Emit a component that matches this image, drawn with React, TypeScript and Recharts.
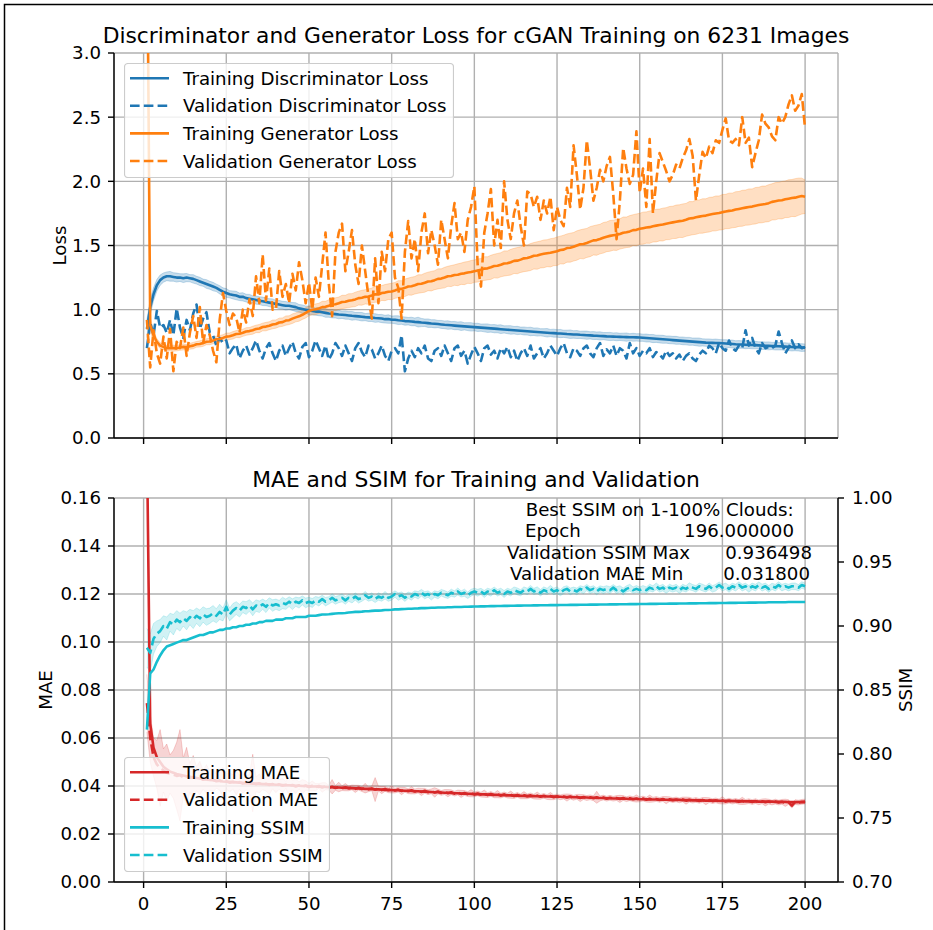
import React from 'react';
import { Area, CartesianGrid, ComposedChart, Legend, Line, XAxis, YAxis } from 'recharts';

const FONT = 'DejaVu Sans';
const BLUE = '#1f77b4';
const ORANGE = '#ff7f0e';
const RED = '#d62728';
const CYAN = '#17becf';
const DASH = '9.6 4.2';
const FS = 18.2;

const epochs = Array.from({ length: 200 }, (_, i) => i + 1);
const xTicks = [0, 25, 50, 75, 100, 125, 150, 175, 200];
const lossTicks = [0, 0.5, 1, 1.5, 2, 2.5, 3];
const maeTicks = [0, 0.02, 0.04, 0.06, 0.08, 0.1, 0.12, 0.14, 0.16];
const ssimTicks = [0.7, 0.75, 0.8, 0.85, 0.9, 0.95, 1.0];

// discriminator loss, training (mean over batches) and its std
const trainDLoss = [
  0.85, 1.02, 1.12, 1.19, 1.23, 1.25, 1.26, 1.26, 1.255, 1.25,
  1.25, 1.245, 1.25, 1.245, 1.24, 1.23, 1.22, 1.21, 1.2, 1.19,
  1.18, 1.17, 1.155, 1.14, 1.13, 1.12, 1.115, 1.11, 1.1, 1.1,
  1.09, 1.085, 1.08, 1.075, 1.07, 1.065, 1.06, 1.055, 1.05, 1.045,
  1.04, 1.035, 1.03, 1.03, 1.025, 1.02, 1.01, 1.005, 1.0, 0.995,
  0.99, 0.985, 0.985, 0.98, 0.975, 0.97, 0.968, 0.965, 0.962, 0.96,
  0.958, 0.955, 0.952, 0.95, 0.948, 0.945, 0.942, 0.94, 0.938, 0.935,
  0.933, 0.931, 0.926, 0.927, 0.922, 0.921, 0.918, 0.916, 0.911, 0.91,
  0.908, 0.905, 0.903, 0.9, 0.898, 0.895, 0.892, 0.89, 0.888, 0.885,
  0.882, 0.88, 0.878, 0.876, 0.874, 0.872, 0.87, 0.868, 0.866, 0.864,
  0.862, 0.86, 0.858, 0.856, 0.854, 0.852, 0.85, 0.848, 0.846, 0.844,
  0.842, 0.84, 0.838, 0.836, 0.834, 0.832, 0.83, 0.828, 0.826, 0.824,
  0.822, 0.82, 0.818, 0.817, 0.815, 0.814, 0.812, 0.81, 0.809, 0.807,
  0.806, 0.804, 0.803, 0.801, 0.8, 0.798, 0.797, 0.795, 0.794, 0.792,
  0.791, 0.79, 0.789, 0.788, 0.787, 0.786, 0.785, 0.785, 0.784, 0.783,
  0.781, 0.779, 0.777, 0.775, 0.773, 0.771, 0.769, 0.767, 0.765, 0.763,
  0.761, 0.759, 0.757, 0.755, 0.753, 0.751, 0.749, 0.747, 0.745, 0.743,
  0.742, 0.741, 0.74, 0.739, 0.738, 0.736, 0.734, 0.732, 0.73, 0.729,
  0.728, 0.727, 0.726, 0.725, 0.724, 0.722, 0.72, 0.719, 0.718, 0.717,
  0.716, 0.715, 0.714, 0.712, 0.71, 0.709, 0.708, 0.707, 0.705, 0.704,
];
const trainDStd = [
  0.07, 0.06, 0.05, 0.045, 0.04, 0.036, 0.034, 0.038, 0.033, 0.035,
  0.03, 0.034, 0.032, 0.028, 0.033, 0.03, 0.032, 0.028, 0.034, 0.031,
  0.033, 0.029, 0.032, 0.03, 0.034, 0.028, 0.031, 0.033, 0.029, 0.032,
  0.03, 0.034, 0.028, 0.032, 0.03, 0.033, 0.029, 0.031, 0.034, 0.028,
  0.032, 0.03, 0.033, 0.028, 0.031, 0.034, 0.03, 0.032, 0.029, 0.033,
  0.031, 0.028, 0.032, 0.03, 0.034, 0.029, 0.032, 0.03, 0.033, 0.028,
  0.032, 0.03, 0.034, 0.029, 0.031, 0.033, 0.028, 0.032, 0.03, 0.034,
  0.029, 0.032, 0.03, 0.033, 0.028, 0.031, 0.034, 0.03, 0.032, 0.029,
  0.033, 0.03, 0.038, 0.032, 0.029, 0.033, 0.03, 0.032, 0.028, 0.031,
  0.03, 0.033, 0.029, 0.032, 0.03, 0.034, 0.028, 0.031, 0.033, 0.029,
  0.032, 0.028, 0.031, 0.033, 0.029, 0.032, 0.03, 0.034, 0.028, 0.031,
  0.033, 0.029, 0.032, 0.028, 0.031, 0.03, 0.033, 0.029, 0.032, 0.028,
  0.03, 0.033, 0.028, 0.031, 0.029, 0.032, 0.028, 0.03, 0.033, 0.029,
  0.031, 0.028, 0.03, 0.032, 0.028, 0.031, 0.029, 0.032, 0.028, 0.03,
  0.032, 0.029, 0.031, 0.028, 0.03, 0.032, 0.028, 0.031, 0.029, 0.03,
  0.028, 0.031, 0.029, 0.032, 0.028, 0.03, 0.031, 0.028, 0.03, 0.029,
  0.031, 0.028, 0.03, 0.029, 0.031, 0.028, 0.03, 0.032, 0.028, 0.029,
  0.03, 0.028, 0.031, 0.029, 0.028, 0.03, 0.029, 0.031, 0.028, 0.03,
  0.029, 0.031, 0.028, 0.03, 0.029, 0.028, 0.03, 0.029, 0.031, 0.028,
  0.03, 0.029, 0.028, 0.03, 0.029, 0.031, 0.028, 0.029, 0.03, 0.028,
];
const valDLoss = [
  0.7, 0.9, 0.8, 0.99, 0.86, 0.88, 0.82, 0.92, 0.8, 1.01,
  0.86, 0.78, 0.92, 0.84, 0.97, 1.04, 0.85, 0.93, 0.98, 0.82,
  0.8, 0.72, 0.78, 0.74, 0.76, 0.66, 0.7, 0.73, 0.62, 0.68,
  0.72, 0.65, 0.7, 0.76, 0.68, 0.62, 0.7, 0.74, 0.66, 0.6,
  0.68, 0.72, 0.64, 0.7, 0.75, 0.66, 0.62, 0.71, 0.74, 0.63,
  0.68, 0.76, 0.7, 0.64, 0.72, 0.61, 0.66, 0.74, 0.7, 0.64,
  0.72, 0.66, 0.6, 0.7, 0.74, 0.67, 0.63, 0.72, 0.69, 0.62,
  0.66, 0.72, 0.64, 0.6, 0.68, 0.7, 0.66, 0.8, 0.52, 0.62,
  0.68, 0.63, 0.7, 0.66, 0.72, 0.62, 0.6, 0.68, 0.7, 0.64,
  0.72, 0.66, 0.6, 0.7, 0.72, 0.64, 0.68, 0.58, 0.65, 0.71,
  0.66, 0.6, 0.7, 0.72, 0.65, 0.68, 0.62, 0.7, 0.66, 0.71,
  0.63, 0.68, 0.6, 0.66, 0.7, 0.64, 0.72, 0.62, 0.66, 0.7,
  0.62, 0.66, 0.72, 0.68, 0.64, 0.7, 0.74, 0.66, 0.63, 0.7,
  0.68, 0.64, 0.7, 0.72, 0.66, 0.63, 0.7, 0.74, 0.64, 0.69,
  0.66, 0.72, 0.64, 0.7, 0.68, 0.62, 0.74, 0.66, 0.7, 0.64,
  0.68, 0.66, 0.7, 0.63, 0.67, 0.65, 0.62, 0.68, 0.64, 0.66,
  0.62, 0.65, 0.6, 0.64, 0.66, 0.62, 0.6, 0.65, 0.68, 0.66,
  0.72, 0.7, 0.66, 0.74, 0.7, 0.68, 0.76, 0.7, 0.68, 0.72,
  0.7, 0.84, 0.72, 0.78, 0.7, 0.66, 0.74, 0.7, 0.71, 0.7,
  0.72, 0.83, 0.74, 0.66, 0.7, 0.76, 0.7, 0.73, 0.7, 0.71,
];

// generator loss
const trainGLoss = [
  4.2, 0.88, 0.8, 0.75, 0.72, 0.71, 0.7, 0.7, 0.7, 0.7,
  0.705, 0.71, 0.708, 0.715, 0.72, 0.73, 0.733, 0.74, 0.75, 0.752,
  0.76, 0.77, 0.772, 0.78, 0.79, 0.793, 0.8, 0.81, 0.812, 0.82,
  0.83, 0.833, 0.84, 0.85, 0.853, 0.865, 0.868, 0.875, 0.885, 0.888,
  0.9, 0.903, 0.915, 0.918, 0.93, 0.94, 0.948, 0.96, 0.975, 0.99,
  1.0, 1.003, 1.01, 1.02, 1.022, 1.03, 1.04, 1.042, 1.05, 1.06,
  1.062, 1.07, 1.073, 1.08, 1.09, 1.093, 1.1, 1.102, 1.11, 1.12,
  1.118, 1.13, 1.133, 1.14, 1.142, 1.15, 1.16, 1.162, 1.17, 1.18,
  1.183, 1.19, 1.2, 1.202, 1.21, 1.22, 1.222, 1.23, 1.24, 1.242,
  1.25, 1.26, 1.262, 1.27, 1.272, 1.28, 1.283, 1.29, 1.293, 1.3,
  1.305, 1.31, 1.32, 1.322, 1.33, 1.34, 1.342, 1.35, 1.36, 1.362,
  1.37, 1.38, 1.382, 1.39, 1.4, 1.402, 1.41, 1.42, 1.422, 1.43,
  1.435, 1.44, 1.443, 1.45, 1.455, 1.465, 1.468, 1.48, 1.483, 1.49,
  1.5, 1.51, 1.512, 1.52, 1.53, 1.54, 1.542, 1.55, 1.56, 1.568,
  1.575, 1.58, 1.583, 1.59, 1.6, 1.603, 1.61, 1.62, 1.622, 1.63,
  1.635, 1.64, 1.643, 1.65, 1.655, 1.66, 1.663, 1.67, 1.675, 1.68,
  1.685, 1.69, 1.693, 1.7, 1.71, 1.713, 1.72, 1.725, 1.73, 1.733,
  1.74, 1.745, 1.75, 1.753, 1.76, 1.765, 1.77, 1.773, 1.78, 1.785,
  1.79, 1.795, 1.8, 1.803, 1.81, 1.815, 1.82, 1.823, 1.83, 1.84,
  1.845, 1.85, 1.853, 1.86, 1.865, 1.87, 1.873, 1.88, 1.885, 1.88,
];
const trainGStd = [
  0.5, 0.06, 0.03, 0.025, 0.022, 0.02, 0.022, 0.02, 0.024, 0.021,
  0.022, 0.024, 0.02, 0.023, 0.025, 0.022, 0.024, 0.026, 0.023, 0.025,
  0.026, 0.024, 0.027, 0.025, 0.028, 0.026, 0.029, 0.027, 0.03, 0.028,
  0.03, 0.028, 0.031, 0.029, 0.032, 0.03, 0.033, 0.031, 0.034, 0.032,
  0.034, 0.033, 0.036, 0.034, 0.037, 0.035, 0.038, 0.036, 0.04, 0.038,
  0.04, 0.042, 0.04, 0.045, 0.043, 0.047, 0.045, 0.05, 0.048, 0.052,
  0.05, 0.054, 0.052, 0.056, 0.054, 0.058, 0.056, 0.06, 0.058, 0.062,
  0.06, 0.058, 0.063, 0.061, 0.064, 0.062, 0.066, 0.064, 0.068, 0.066,
  0.07, 0.068, 0.072, 0.07, 0.074, 0.072, 0.076, 0.074, 0.078, 0.076,
  0.08, 0.078, 0.082, 0.08, 0.085, 0.083, 0.088, 0.085, 0.09, 0.087,
  0.09, 0.088, 0.092, 0.09, 0.094, 0.092, 0.096, 0.094, 0.098, 0.096,
  0.1, 0.098, 0.102, 0.1, 0.104, 0.102, 0.105, 0.103, 0.107, 0.105,
  0.108, 0.105, 0.11, 0.107, 0.111, 0.108, 0.112, 0.11, 0.113, 0.111,
  0.114, 0.112, 0.116, 0.113, 0.117, 0.114, 0.118, 0.115, 0.119, 0.116,
  0.12, 0.117, 0.121, 0.118, 0.122, 0.119, 0.123, 0.12, 0.124, 0.121,
  0.125, 0.122, 0.126, 0.123, 0.127, 0.124, 0.128, 0.125, 0.129, 0.126,
  0.13, 0.127, 0.131, 0.128, 0.132, 0.129, 0.133, 0.13, 0.134, 0.131,
  0.135, 0.132, 0.136, 0.133, 0.137, 0.134, 0.138, 0.135, 0.139, 0.136,
  0.14, 0.137, 0.141, 0.138, 0.142, 0.139, 0.143, 0.14, 0.144, 0.141,
  0.145, 0.142, 0.146, 0.143, 0.147, 0.144, 0.148, 0.145, 0.14, 0.13,
];
const valGLoss = [
  0.92, 0.55, 0.84, 0.66, 0.58, 0.79, 0.62, 0.85, 0.52, 0.75,
  0.7, 0.86, 0.64, 0.82, 0.95, 0.78, 1.02, 0.74, 0.88, 0.8,
  0.68, 0.59, 0.92, 1.13, 0.99, 0.88, 0.97, 0.94, 0.82, 1.0,
  0.9, 1.08, 0.95, 1.26, 1.05, 1.43, 1.07, 1.32, 1.0, 1.0,
  1.3, 1.1, 1.2, 1.05, 1.28, 1.15, 1.37, 1.23, 1.05, 1.21,
  1.0, 1.25, 1.1, 1.35, 1.6, 1.2, 0.95, 1.45, 1.6, 1.67,
  1.3, 1.45, 1.62, 1.35, 1.2, 1.5, 1.3, 1.1, 0.93, 1.4,
  1.05, 1.45, 1.3, 1.55, 1.6, 1.25, 1.17, 0.93, 1.45, 1.69,
  1.4, 1.55, 1.3, 1.6, 1.75, 1.44, 1.62, 1.5, 1.35, 1.7,
  1.55, 1.4, 1.65, 1.83, 1.55, 1.6, 1.45, 1.7, 1.8, 1.96,
  1.35, 1.18, 1.6, 1.75, 1.94, 1.5, 1.7, 1.48, 2.0, 1.7,
  1.55, 1.75, 1.85, 1.65, 1.5, 1.92, 1.9, 1.8, 1.88, 1.7,
  1.85, 1.75, 1.88, 1.62, 1.8, 1.7, 1.65, 1.95, 1.8, 2.28,
  2.05, 1.78, 1.95, 2.32, 2.1, 1.85, 1.95, 2.09, 2.0, 2.12,
  2.19, 1.9, 1.55, 1.85, 2.26, 2.1, 1.98, 2.05, 2.39, 1.91,
  2.1, 1.8, 2.33, 1.75, 2.0, 2.22, 2.15, 2.08, 2.0, 2.05,
  2.13, 2.1, 2.18, 2.24, 2.33, 2.2, 1.85, 2.05, 2.23, 2.18,
  2.27, 2.22, 2.32, 2.3, 2.4, 2.49, 2.32, 2.3, 2.33, 2.28,
  2.5, 2.3, 2.34, 2.11, 2.22, 2.32, 2.52, 2.45, 2.42, 2.35,
  2.32, 2.5, 2.45, 2.5, 2.6, 2.67, 2.55, 2.59, 2.68, 2.41,
];

// MAE (left axis of the lower panel)
const trainMae = [
  0.185, 0.066, 0.056, 0.052, 0.05, 0.048, 0.047, 0.046, 0.0455, 0.045,
  0.0447, 0.0444, 0.0441, 0.0438, 0.0435, 0.0433, 0.0431, 0.0429, 0.0427, 0.0425,
  0.0424, 0.0422, 0.0421, 0.0419, 0.0418, 0.0417, 0.0416, 0.0415, 0.0414, 0.0413,
  0.0412, 0.0411, 0.041, 0.041, 0.0409, 0.0408, 0.0407, 0.0407, 0.0406, 0.0405,
  0.0405, 0.0404, 0.0403, 0.0403, 0.0402, 0.0401, 0.0401, 0.04, 0.04, 0.0399,
  0.0398, 0.0398, 0.0397, 0.0397, 0.0396, 0.0395, 0.0395, 0.0394, 0.0394, 0.0393,
  0.0392, 0.0392, 0.0391, 0.039, 0.039, 0.0389, 0.0388, 0.0388, 0.0387, 0.0386,
  0.0386, 0.0385, 0.0384, 0.0384, 0.0383, 0.0382, 0.0382, 0.0381, 0.038, 0.038,
  0.0379, 0.0378, 0.0378, 0.0377, 0.0376, 0.0376, 0.0375, 0.0374, 0.0374, 0.0373,
  0.0372, 0.0372, 0.0371, 0.037, 0.037, 0.0369, 0.0368, 0.0368, 0.0367, 0.0366,
  0.0366, 0.0365, 0.0365, 0.0364, 0.0364, 0.0363, 0.0363, 0.0362, 0.0362, 0.0361,
  0.0361, 0.036, 0.036, 0.0359, 0.0359, 0.0358, 0.0358, 0.0358, 0.0357, 0.0357,
  0.0357, 0.0356, 0.0356, 0.0356, 0.0355, 0.0355, 0.0354, 0.0354, 0.0354, 0.0353,
  0.0353, 0.0352, 0.0352, 0.0352, 0.0351, 0.0351, 0.035, 0.035, 0.035, 0.0349,
  0.0349, 0.0348, 0.0348, 0.0348, 0.0347, 0.0347, 0.0346, 0.0346, 0.0346, 0.0345,
  0.0345, 0.0345, 0.0344, 0.0344, 0.0344, 0.0343, 0.0343, 0.0343, 0.0342, 0.0342,
  0.0342, 0.0342, 0.0341, 0.0341, 0.0341, 0.034, 0.034, 0.034, 0.034, 0.0339,
  0.0339, 0.0339, 0.0339, 0.0338, 0.0338, 0.0338, 0.0338, 0.0337, 0.0337, 0.0337,
  0.0337, 0.0336, 0.0336, 0.0336, 0.0336, 0.0335, 0.0335, 0.0335, 0.0335, 0.0335,
  0.0334, 0.0334, 0.0334, 0.0334, 0.0333, 0.0333, 0.0333, 0.0333, 0.0333, 0.0332,
];
const valMae = [
  0.0745, 0.06, 0.052, 0.049, 0.0475, 0.0465, 0.0455, 0.045, 0.0448, 0.0442,
  0.0445, 0.0437, 0.0441, 0.0434, 0.0437, 0.0431, 0.0433, 0.0426, 0.0429, 0.0423,
  0.0426, 0.042, 0.0423, 0.0417, 0.042, 0.0414, 0.0418, 0.0412, 0.0416, 0.041,
  0.0414, 0.0408, 0.0412, 0.0407, 0.0411, 0.0405, 0.0409, 0.0404, 0.0408, 0.0402,
  0.0407, 0.0401, 0.0405, 0.04, 0.0404, 0.0398, 0.0403, 0.0397, 0.0402, 0.0396,
  0.0401, 0.0395, 0.04, 0.0394, 0.0399, 0.0393, 0.0397, 0.0392, 0.0396, 0.0391,
  0.0395, 0.039, 0.0394, 0.0388, 0.0393, 0.0387, 0.0391, 0.0386, 0.039, 0.0385,
  0.0389, 0.0383, 0.0388, 0.0382, 0.0386, 0.0381, 0.0385, 0.0379, 0.0384, 0.0378,
  0.0382, 0.0377, 0.0381, 0.0375, 0.038, 0.0374, 0.0378, 0.0373, 0.0377, 0.0371,
  0.0375, 0.037, 0.0374, 0.0368, 0.0373, 0.0367, 0.0371, 0.0366, 0.037, 0.0365,
  0.0369, 0.0364, 0.0368, 0.0362, 0.0367, 0.0361, 0.0366, 0.036, 0.0365, 0.036,
  0.0364, 0.0358, 0.0363, 0.0357, 0.0362, 0.0357, 0.0361, 0.0356, 0.036, 0.0355,
  0.0359, 0.0354, 0.0358, 0.0353, 0.0357, 0.0353, 0.0356, 0.0352, 0.0356, 0.0351,
  0.0355, 0.035, 0.0354, 0.035, 0.0353, 0.0349, 0.0353, 0.0348, 0.0352, 0.0347,
  0.0351, 0.0347, 0.035, 0.0346, 0.035, 0.0345, 0.0349, 0.0345, 0.0348, 0.0344,
  0.0348, 0.0343, 0.0347, 0.0343, 0.0346, 0.0342, 0.0346, 0.0341, 0.0345, 0.0341,
  0.0344, 0.034, 0.0344, 0.0339, 0.0343, 0.0339, 0.0342, 0.0338, 0.0342, 0.0337,
  0.0341, 0.0337, 0.034, 0.0336, 0.034, 0.0335, 0.0339, 0.0335, 0.0338, 0.0334,
  0.0338, 0.0334, 0.0337, 0.0333, 0.0337, 0.0332, 0.0336, 0.0332, 0.0335, 0.0331,
  0.0335, 0.0331, 0.0334, 0.033, 0.0333, 0.0318, 0.0333, 0.0331, 0.0334, 0.0335,
];
const valMaeStd = [
  0.012, 0.01, 0.008, 0.01, 0.016, 0.009, 0.012, 0.008, 0.01, 0.014,
  0.019, 0.008, 0.012, 0.006, 0.009, 0.005, 0.007, 0.004, 0.006, 0.004,
  0.005, 0.003, 0.004, 0.006, 0.003, 0.004, 0.003, 0.005, 0.003, 0.004,
  0.003, 0.004, 0.012, 0.003, 0.004, 0.002, 0.003, 0.004, 0.002, 0.003,
  0.002, 0.003, 0.0015, 0.004, 0.002, 0.003, 0.0015, 0.003, 0.002, 0.0015,
  0.002, 0.0015, 0.001, 0.002, 0.0015, 0.001, 0.003, 0.001, 0.002, 0.001,
  0.0015, 0.001, 0.001, 0.0015, 0.001, 0.001, 0.002, 0.001, 0.001, 0.005,
  0.001, 0.0015, 0.001, 0.001, 0.0015, 0.001, 0.001, 0.0015, 0.001, 0.001,
  0.0015, 0.001, 0.001, 0.0015, 0.001, 0.001, 0.001, 0.002, 0.001, 0.001,
  0.001, 0.0015, 0.001, 0.001, 0.001, 0.0015, 0.001, 0.001, 0.0015, 0.001,
  0.001, 0.001, 0.0015, 0.001, 0.001, 0.001, 0.0015, 0.001, 0.001, 0.001,
  0.0015, 0.001, 0.001, 0.001, 0.0015, 0.001, 0.001, 0.001, 0.0015, 0.001,
  0.001, 0.001, 0.0015, 0.001, 0.001, 0.001, 0.001, 0.0015, 0.001, 0.001,
  0.001, 0.0015, 0.001, 0.001, 0.001, 0.001, 0.0025, 0.001, 0.001, 0.001,
  0.001, 0.001, 0.001, 0.0015, 0.001, 0.001, 0.001, 0.001, 0.0015, 0.001,
  0.001, 0.001, 0.0015, 0.001, 0.001, 0.001, 0.001, 0.0015, 0.001, 0.001,
  0.001, 0.001, 0.001, 0.0015, 0.001, 0.001, 0.001, 0.001, 0.001, 0.0015,
  0.001, 0.001, 0.001, 0.001, 0.0015, 0.001, 0.001, 0.001, 0.001, 0.001,
  0.0015, 0.001, 0.001, 0.001, 0.001, 0.001, 0.001, 0.0015, 0.001, 0.001,
  0.001, 0.001, 0.001, 0.0015, 0.001, 0.001, 0.001, 0.001, 0.001, 0.001,
];

// SSIM (right axis of the lower panel)
const trainSsim = [
  0.819, 0.863, 0.866, 0.872, 0.877, 0.881, 0.884, 0.885, 0.886, 0.887,
  0.888, 0.889, 0.889, 0.89, 0.891, 0.892, 0.893, 0.893, 0.894, 0.895,
  0.895, 0.896, 0.897, 0.897, 0.898, 0.898, 0.899, 0.899, 0.9, 0.9,
  0.901, 0.901, 0.902, 0.902, 0.903, 0.903, 0.904, 0.904, 0.904, 0.905,
  0.905, 0.905, 0.906, 0.906, 0.906, 0.907, 0.907, 0.907, 0.907, 0.908,
  0.908, 0.908, 0.9085, 0.909, 0.909, 0.9092, 0.9095, 0.9098, 0.91, 0.91,
  0.9102, 0.9105, 0.9108, 0.911, 0.911, 0.9112, 0.9115, 0.9115, 0.9118, 0.912,
  0.912, 0.9122, 0.9125, 0.9125, 0.9127, 0.913, 0.913, 0.9132, 0.9133, 0.9135,
  0.9135, 0.9137, 0.9138, 0.914, 0.914, 0.9141, 0.9142, 0.9143, 0.9144, 0.9145,
  0.9145, 0.9146, 0.9147, 0.9148, 0.9148, 0.9149, 0.915, 0.915, 0.9151, 0.9152,
  0.9152, 0.9153, 0.9153, 0.9154, 0.9155, 0.9155, 0.9156, 0.9156, 0.9157, 0.9157,
  0.9158, 0.9158, 0.9159, 0.9159, 0.916, 0.916, 0.916, 0.9161, 0.9161, 0.9162,
  0.9162, 0.9162, 0.9163, 0.9163, 0.9163, 0.9164, 0.9164, 0.9164, 0.9165, 0.9165,
  0.9165, 0.9166, 0.9166, 0.9166, 0.9167, 0.9167, 0.9167, 0.9168, 0.9168, 0.9168,
  0.9169, 0.9169, 0.9169, 0.917, 0.917, 0.917, 0.9171, 0.9171, 0.9171, 0.9172,
  0.9172, 0.9172, 0.9173, 0.9173, 0.9173, 0.9174, 0.9174, 0.9174, 0.9175, 0.9175,
  0.9175, 0.9176, 0.9176, 0.9176, 0.9177, 0.9177, 0.9177, 0.9178, 0.9178, 0.9178,
  0.9179, 0.9179, 0.9179, 0.918, 0.918, 0.918, 0.9181, 0.9181, 0.9181, 0.9182,
  0.9182, 0.9182, 0.9183, 0.9183, 0.9183, 0.9184, 0.9184, 0.9184, 0.9185, 0.9185,
  0.9185, 0.9186, 0.9186, 0.9186, 0.9187, 0.9187, 0.9187, 0.9188, 0.9188, 0.9188,
];
const valSsim = [
  0.883, 0.879, 0.89, 0.894, 0.896, 0.9, 0.898, 0.903, 0.901, 0.905,
  0.903, 0.906, 0.904, 0.907, 0.905, 0.908, 0.906, 0.909, 0.907, 0.908,
  0.91, 0.908, 0.911, 0.909, 0.915, 0.909, 0.912, 0.914, 0.912, 0.915,
  0.914, 0.916, 0.913, 0.916, 0.915, 0.917, 0.915, 0.918, 0.916, 0.917,
  0.916, 0.918, 0.917, 0.919, 0.917, 0.919, 0.918, 0.92, 0.918, 0.919,
  0.918, 0.92, 0.919, 0.921, 0.919, 0.92, 0.922, 0.92, 0.921, 0.922,
  0.92, 0.922, 0.921, 0.923, 0.921, 0.922, 0.924, 0.922, 0.923, 0.921,
  0.923, 0.922, 0.924, 0.922, 0.923, 0.925, 0.923, 0.924, 0.922, 0.924,
  0.923, 0.925, 0.924, 0.926, 0.924, 0.925, 0.923, 0.925, 0.924, 0.926,
  0.925, 0.924, 0.926, 0.925, 0.927, 0.925, 0.926, 0.924, 0.926, 0.927,
  0.926, 0.927, 0.925, 0.927, 0.926, 0.928, 0.926, 0.927, 0.925, 0.927,
  0.926, 0.928, 0.927, 0.926, 0.928, 0.927, 0.929, 0.927, 0.928, 0.926,
  0.928, 0.927, 0.929, 0.927, 0.928, 0.926, 0.928, 0.929, 0.927, 0.928,
  0.927, 0.929, 0.928, 0.93, 0.928, 0.929, 0.927, 0.929, 0.928, 0.929,
  0.928, 0.93, 0.928, 0.929, 0.927, 0.929, 0.93, 0.928, 0.929, 0.928,
  0.929, 0.928, 0.93, 0.929, 0.931, 0.929, 0.93, 0.928, 0.93, 0.929,
  0.93, 0.928, 0.93, 0.929, 0.931, 0.93, 0.929, 0.931, 0.93, 0.929,
  0.931, 0.929, 0.93, 0.932, 0.93, 0.931, 0.929, 0.931, 0.93, 0.932,
  0.93, 0.931, 0.929, 0.931, 0.93, 0.932, 0.93, 0.931, 0.929, 0.931,
  0.93, 0.932, 0.93, 0.931, 0.93, 0.931, 0.931, 0.93, 0.932, 0.931,
];
const valSsimStd = [
  0.015, 0.015, 0.012, 0.01, 0.009, 0.008, 0.009, 0.007, 0.008, 0.007,
  0.007, 0.006, 0.007, 0.006, 0.007, 0.006, 0.0065, 0.006, 0.0065, 0.006,
  0.006, 0.0055, 0.006, 0.005, 0.0055, 0.005, 0.0055, 0.005, 0.005, 0.0045,
  0.005, 0.0045, 0.005, 0.0045, 0.0045, 0.004, 0.0045, 0.004, 0.0045, 0.004,
  0.004, 0.0045, 0.004, 0.0038, 0.0042, 0.0036, 0.004, 0.0035, 0.0038, 0.0034,
  0.0035, 0.003, 0.0034, 0.003, 0.0033, 0.0029, 0.0032, 0.003, 0.0028, 0.0031,
  0.003, 0.0027, 0.003, 0.0028, 0.0031, 0.0027, 0.003, 0.0026, 0.0029, 0.0027,
  0.0029, 0.0026, 0.003, 0.0027, 0.0028, 0.0025, 0.0029, 0.0026, 0.0028, 0.0025,
  0.0028, 0.0025, 0.0029, 0.0026, 0.0028, 0.0025, 0.0027, 0.0025, 0.0028, 0.0026,
  0.0027, 0.0025, 0.0028, 0.0025, 0.0027, 0.0024, 0.0028, 0.0025, 0.0027, 0.0025,
  0.0027, 0.0024, 0.0028, 0.0025, 0.0027, 0.0024, 0.0026, 0.0025, 0.0027, 0.0024,
  0.0026, 0.0025, 0.0027, 0.0024, 0.0026, 0.0025, 0.0027, 0.0024, 0.0026, 0.0025,
  0.0026, 0.0024, 0.0027, 0.0025, 0.0026, 0.0024, 0.0027, 0.0025, 0.0026, 0.0024,
  0.0026, 0.0025, 0.0027, 0.0024, 0.0026, 0.0025, 0.0026, 0.0024, 0.0027, 0.0025,
  0.0026, 0.0024, 0.0026, 0.0025, 0.0027, 0.0024, 0.0026, 0.0025, 0.0026, 0.0024,
  0.0026, 0.0025, 0.0027, 0.0024, 0.0026, 0.0025, 0.0026, 0.0024, 0.0026, 0.0025,
  0.0026, 0.0024, 0.0026, 0.0025, 0.0027, 0.0024, 0.0026, 0.0025, 0.0026, 0.0024,
  0.0026, 0.0025, 0.0026, 0.0024, 0.0026, 0.0025, 0.0027, 0.0024, 0.0026, 0.0025,
  0.0026, 0.0024, 0.0026, 0.0025, 0.0026, 0.0024, 0.0027, 0.0025, 0.0026, 0.0024,
  0.0026, 0.0025, 0.0026, 0.0024, 0.0026, 0.0025, 0.0026, 0.0024, 0.0026, 0.0025,
];

const lossRows = epochs.map((epoch, i) => ({
  epoch,
  trainD: trainDLoss[i],
  valD: valDLoss[i],
  trainG: trainGLoss[i],
  valG: valGLoss[i],
  dBand: [trainDLoss[i] - trainDStd[i], trainDLoss[i] + trainDStd[i]],
  gBand: [trainGLoss[i] - trainGStd[i], trainGLoss[i] + trainGStd[i]],
}));

const metricRows = epochs.map((epoch, i) => ({
  epoch,
  trainMae: trainMae[i],
  valMae: valMae[i],
  trainSsim: trainSsim[i],
  valSsim: valSsim[i],
  maeBand: [valMae[i] - valMaeStd[i], valMae[i] + valMaeStd[i]],
  ssimBand: [valSsim[i] - valSsimStd[i], valSsim[i] + valSsimStd[i]],
}));

const lossLegend = [
  { label: 'Training Discriminator Loss', color: BLUE, dashed: false },
  { label: 'Validation Discriminator Loss', color: BLUE, dashed: true },
  { label: 'Training Generator Loss', color: ORANGE, dashed: false },
  { label: 'Validation Generator Loss', color: ORANGE, dashed: true },
];
const metricLegend = [
  { label: 'Training MAE', color: RED, dashed: false },
  { label: 'Validation MAE', color: RED, dashed: true },
  { label: 'Training SSIM', color: CYAN, dashed: false },
  { label: 'Validation SSIM', color: CYAN, dashed: true },
];

const X_DOMAIN: [number, number] = [-8.95, 209.95];
const axisLine = { stroke: '#000', strokeWidth: 1.4 };
const tickFont = { fontSize: FS, fill: '#000', fontFamily: FONT };
const GRID = '#b0b0b0';

type LegendItem = { label: string; color: string; dashed: boolean };

function LegendBox({ items, width }: { items: LegendItem[]; width: number }) {
  const h = 115;
  return (
    <svg width={width} height={h} style={{ display: 'block' }}>
      <rect x={0.5} y={0.5} width={width - 1} height={h - 1} rx={3.5} fill="#fff" fillOpacity={0.8} stroke="#cccccc" strokeWidth={1.2} />
      {items.map((it, i) => {
        const cy = 15.2 + i * 27.6;
        return (
          <g key={it.label}>
            <line x1={6} x2={45} y1={cy} y2={cy} stroke={it.color} strokeWidth={2.6} strokeDasharray={it.dashed ? DASH : undefined} />
            <text x={59} y={cy} dominantBaseline="central" fontSize={FS} fontFamily={FONT} fill="#000">
              {it.label}
            </text>
          </g>
        );
      })}
    </svg>
  );
}

function LossChart() {
  return (
    <ComposedChart width={933} height={470} data={lossRows} margin={{ top: 53, right: 95, bottom: 0, left: 0 }}>
      <CartesianGrid xAxisId="main" yAxisId="loss" stroke={GRID} strokeWidth={1.4} />
      <XAxis xAxisId="main" type="number" dataKey="epoch" domain={X_DOMAIN} ticks={xTicks} interval={0}
        tickFormatter={() => ''} tickSize={6} height={32} axisLine={axisLine} tickLine={axisLine} />
      <XAxis xAxisId="frame" orientation="top" type="number" dataKey="epoch" domain={X_DOMAIN} height={0}
        tick={false} tickLine={false} axisLine={axisLine} />
      <YAxis yAxisId="loss" type="number" domain={[0, 3]} ticks={lossTicks} interval={0} allowDataOverflow width={114}
        tick={tickFont} tickFormatter={(v: number) => v.toFixed(1)} tickSize={6} tickMargin={7}
        axisLine={axisLine} tickLine={axisLine} />
      <YAxis yAxisId="frame" orientation="right" type="number" domain={[0, 3]} width={0}
        tick={false} tickLine={false} axisLine={axisLine} />
      <Area xAxisId="main" yAxisId="loss" type="linear" dataKey="dBand" fill={BLUE} fillOpacity={0.25}
        stroke={BLUE} strokeOpacity={0.25} strokeWidth={1} isAnimationActive={false} />
      <Area xAxisId="main" yAxisId="loss" type="linear" dataKey="gBand" fill={ORANGE} fillOpacity={0.25}
        stroke={ORANGE} strokeOpacity={0.25} strokeWidth={1} isAnimationActive={false} />
      <Line xAxisId="main" yAxisId="loss" type="linear" dataKey="trainD" stroke={BLUE} strokeWidth={2.6}
        dot={false} strokeLinejoin="round" isAnimationActive={false} />
      <Line xAxisId="main" yAxisId="loss" type="linear" dataKey="valD" stroke={BLUE} strokeWidth={2.6}
        strokeDasharray={DASH} dot={false} strokeLinejoin="round" isAnimationActive={false} />
      <Line xAxisId="main" yAxisId="loss" type="linear" dataKey="trainG" stroke={ORANGE} strokeWidth={2.6}
        dot={false} strokeLinejoin="round" isAnimationActive={false} />
      <Line xAxisId="main" yAxisId="loss" type="linear" dataKey="valG" stroke={ORANGE} strokeWidth={2.6}
        strokeDasharray={DASH} dot={false} strokeLinejoin="round" isAnimationActive={false} />
      <Legend layout="vertical" align="center" verticalAlign="middle"
        wrapperStyle={{ left: 124, top: 63, width: 330, height: 115 }}
        content={() => <LegendBox items={lossLegend} width={330} />} />
    </ComposedChart>
  );
}

function MetricChart() {
  return (
    <ComposedChart width={933} height={470} data={metricRows} margin={{ top: 38, right: 0, bottom: 0, left: 0 }}>
      <CartesianGrid xAxisId="main" yAxisId="mae" stroke={GRID} strokeWidth={1.4} />
      <XAxis xAxisId="main" type="number" dataKey="epoch" domain={X_DOMAIN} ticks={xTicks} interval={0}
        tick={tickFont} tickSize={6} tickMargin={9} height={48} axisLine={axisLine} tickLine={axisLine} />
      <XAxis xAxisId="frame" orientation="top" type="number" dataKey="epoch" domain={X_DOMAIN} height={0}
        tick={false} tickLine={false} axisLine={axisLine} />
      <YAxis yAxisId="mae" type="number" domain={[0, 0.16]} ticks={maeTicks} interval={0} allowDataOverflow width={114}
        tick={tickFont} tickFormatter={(v: number) => v.toFixed(2)} tickSize={6} tickMargin={7}
        axisLine={axisLine} tickLine={axisLine} />
      <YAxis yAxisId="ssim" orientation="right" type="number" domain={[0.7, 1.0]} ticks={ssimTicks} interval={0}
        allowDataOverflow width={95} tick={tickFont} tickFormatter={(v: number) => v.toFixed(2)} tickSize={6}
        tickMargin={8} axisLine={axisLine} tickLine={axisLine} />
      <Area xAxisId="main" yAxisId="mae" type="linear" dataKey="maeBand" fill={RED} fillOpacity={0.2}
        stroke={RED} strokeOpacity={0.2} strokeWidth={1} isAnimationActive={false} />
      <Area xAxisId="main" yAxisId="ssim" type="linear" dataKey="ssimBand" fill={CYAN} fillOpacity={0.2}
        stroke={CYAN} strokeOpacity={0.2} strokeWidth={1} isAnimationActive={false} />
      <Line xAxisId="main" yAxisId="mae" type="linear" dataKey="trainMae" stroke={RED} strokeWidth={2.6}
        dot={false} strokeLinejoin="round" isAnimationActive={false} />
      <Line xAxisId="main" yAxisId="mae" type="linear" dataKey="valMae" stroke={RED} strokeWidth={2.6}
        strokeDasharray={DASH} dot={false} strokeLinejoin="round" isAnimationActive={false} />
      <Line xAxisId="main" yAxisId="ssim" type="linear" dataKey="trainSsim" stroke={CYAN} strokeWidth={2.6}
        dot={false} strokeLinejoin="round" isAnimationActive={false} />
      <Line xAxisId="main" yAxisId="ssim" type="linear" dataKey="valSsim" stroke={CYAN} strokeWidth={2.6}
        strokeDasharray={DASH} dot={false} strokeLinejoin="round" isAnimationActive={false} />
      <Legend layout="vertical" align="center" verticalAlign="middle"
        wrapperStyle={{ left: 123.5, top: 297.3, width: 206, height: 115 }}
        content={() => <LegendBox items={metricLegend} width={206} />} />
    </ComposedChart>
  );
}

export default function App() {
  const txt = { fontFamily: FONT, fill: '#000' };
  return (
    <div style={{ position: 'absolute', left: 0, top: 0, width: 933, height: 930, background: '#fff', overflow: 'hidden' }}>
      <div style={{ position: 'absolute', left: 0, top: 0 }}>
        <LossChart />
      </div>
      <div style={{ position: 'absolute', left: 0, top: 460 }}>
        <MetricChart />
      </div>
      <svg width={933} height={930} style={{ position: 'absolute', left: 0, top: 0, pointerEvents: 'none' }}>
        <path d="M4.5 935 V4.5 H935" fill="none" stroke="#000" strokeWidth={1.5} />
        <text x={476} y={42.5} textAnchor="middle" fontSize={21.8} {...txt}>
          Discriminator and Generator Loss for cGAN Training on 6231 Images
        </text>
        <text x={476} y={487} textAnchor="middle" fontSize={21.8} {...txt}>
          MAE and SSIM for Training and Validation
        </text>
        <text transform="translate(59 245.5) rotate(-90)" textAnchor="middle" dominantBaseline="central" fontSize={FS} {...txt}>Loss</text>
        <text transform="translate(45 690) rotate(-90)" textAnchor="middle" dominantBaseline="central" fontSize={FS} {...txt}>MAE</text>
        <text transform="translate(905 690) rotate(-90)" textAnchor="middle" dominantBaseline="central" fontSize={FS} {...txt}>SSIM</text>
        <text x={525.7} y={516} fontSize={FS} {...txt}>Best SSIM on 1-100% Clouds:</text>
        <text x={525} y={537.3} fontSize={FS} {...txt}>Epoch</text>
        <text x={794} y={537.3} textAnchor="end" fontSize={FS} {...txt}>196.000000</text>
        <text x={507} y={559} fontSize={FS} {...txt}>Validation SSIM Max</text>
        <text x={812} y={559} textAnchor="end" fontSize={FS} {...txt}>0.936498</text>
        <text x={510} y={580} fontSize={FS} {...txt}>Validation MAE Min</text>
        <text x={810} y={580} textAnchor="end" fontSize={FS} {...txt}>0.031800</text>
      </svg>
    </div>
  );
}
